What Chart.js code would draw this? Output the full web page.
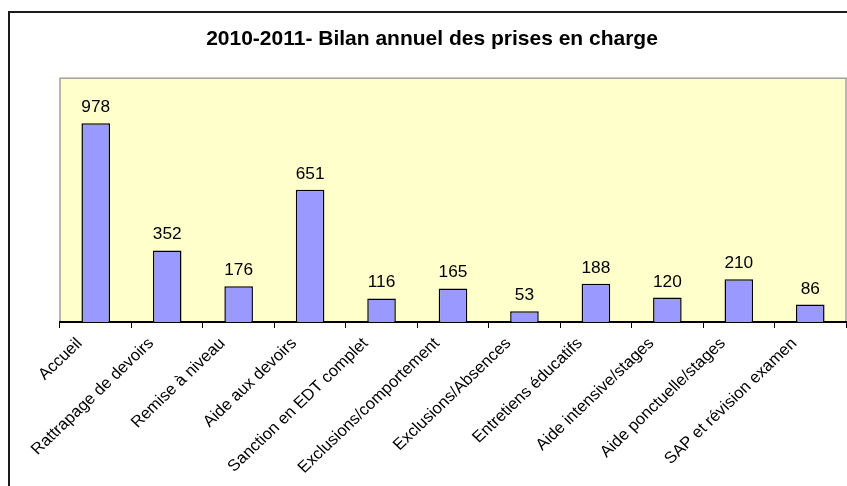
<!DOCTYPE html>
<html lang="fr">
<head>
  <meta charset="UTF-8">
  <title>Bilan annuel des prises en charge</title>
  <script src="https://cdn.jsdelivr.net/npm/chart.js"></script>
  <style>
    html, body { margin: 0; padding: 0; background: #ffffff; }
    #wrap { width: 847px; height: 486px; position: relative; }
  </style>
</head>
<body>
  <div id="wrap"><canvas id="bilanChart" width="847" height="486"></canvas></div>

  <script>
    const categories = [
      "Accueil",
      "Rattrapage de devoirs",
      "Remise à niveau",
      "Aide aux devoirs",
      "Sanction en EDT complet",
      "Exclusions/comportement",
      "Exclusions/Absences",
      "Entretiens éducatifs",
      "Aide intensive/stages",
      "Aide ponctuelle/stages",
      "SAP et révision examen"
    ];
    const counts = [978, 352, 176, 651, 116, 165, 53, 188, 120, 210, 86];
    const chartTitle = "2010-2011- Bilan annuel des prises en charge";

    const fontFamily = "'Liberation Sans', Arial, sans-serif";

    // yellow plot area + outer frame
    const frame = {
      id: "frame",
      beforeDraw(chart) {
        const { ctx, chartArea: a } = chart;
        ctx.save();
        ctx.strokeStyle = "#1a1a1a";
        ctx.lineWidth = 2;
        ctx.strokeRect(9, 12, 900, 600);
        ctx.fillStyle = "#ffffcc";
        ctx.fillRect(a.left, a.top, a.right - a.left, a.bottom - a.top);
        ctx.strokeStyle = "#a0a0a0";
        ctx.lineWidth = 1.5;
        ctx.strokeRect(a.left, a.top, a.right - a.left, a.bottom - a.top);
        ctx.restore();
      }
    };

    // numbers above the bars + slanted category names (Excel style, sitting left of the tick)
    const textMarks = {
      id: "textMarks",
      afterDatasetsDraw(chart) {
        const { ctx } = chart;
        const meta = chart.getDatasetMeta(0);
        const xs = chart.scales.x;
        ctx.save();
        ctx.fillStyle = "#000000";
        ctx.font = "16px " + fontFamily;
        ctx.textAlign = "center";
        ctx.textBaseline = "alphabetic";
        meta.data.forEach((bar, i) => {
          ctx.save();
          ctx.translate(bar.x, bar.y - 11);
          ctx.scale(1.08, 1);
          ctx.fillText(String(counts[i]), 0, 0);
          ctx.restore();
        });

        ctx.font = "16px " + fontFamily;
        ctx.textAlign = "right";
        ctx.textBaseline = "middle";
        categories.forEach((name, i) => {
          const x = xs.getPixelForTick(i) - 16;
          const y = xs.top + 19;
          ctx.save();
          ctx.translate(x, y);
          ctx.scale(1.05, 1);
          ctx.rotate(-Math.PI / 4);
          ctx.fillText(name, 0, 0);
          ctx.restore();
        });
        ctx.restore();
      }
    };

    new Chart(document.getElementById("bilanChart"), {
      type: "bar",
      data: {
        labels: categories,
        datasets: [{
          data: counts,
          backgroundColor: "#9999ff",
          borderColor: "#000000",
          borderWidth: 1.5,
          categoryPercentage: 1,
          barPercentage: 0.4
        }]
      },
      options: {
        responsive: false,
        animation: false,
        layout: { padding: { left: 18, right: 1, top: 0, bottom: 0 } },
        plugins: {
          legend: { display: false },
          tooltip: { enabled: false },
          title: {
            display: true,
            text: chartTitle,
            color: "#000000",
            font: { family: fontFamily, size: 21, weight: "bold", lineHeight: 1.2 },
            padding: { top: 27, bottom: 26 }
          }
        },
        scales: {
          x: {
            afterFit(scale) { scale.height = 164; },
            grid: {
              display: true,
              offset: true,
              drawOnChartArea: false,
              drawTicks: true,
              tickLength: 6,
              color: "#000000"
            },
            border: { display: true, color: "#000000", width: 2 },
            ticks: { display: false, autoSkip: false }
          },
          y: {
            display: true,
            min: 0,
            max: 1200,
            afterFit(scale) { scale.width = 42; },
            grid: { display: false },
            border: { display: false },
            ticks: { display: false }
          }
        }
      },
      plugins: [frame, textMarks]
    });
  </script>
</body>
</html>
